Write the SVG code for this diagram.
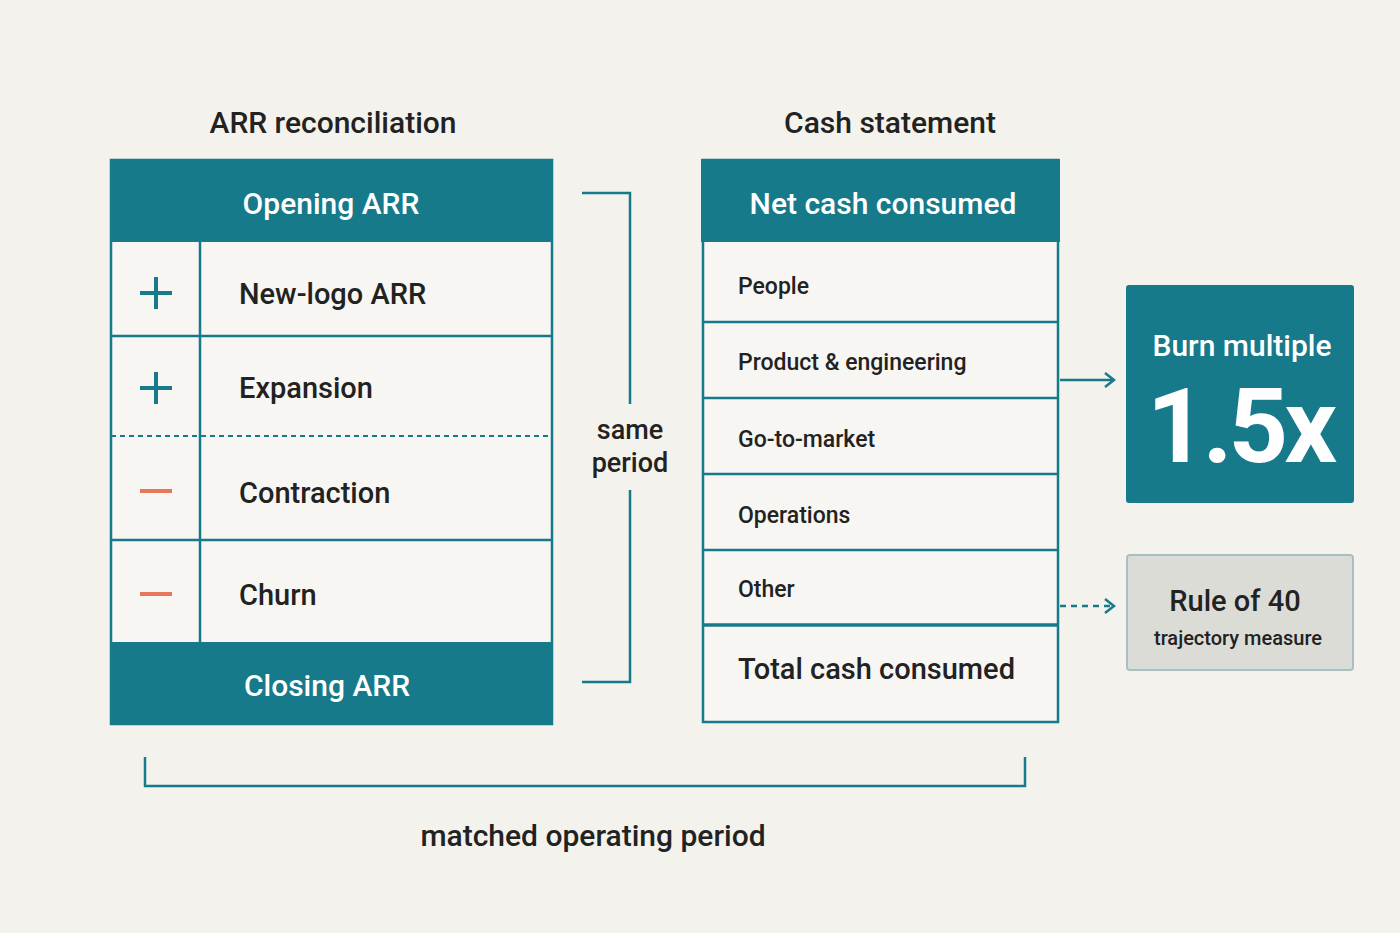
<svg xmlns="http://www.w3.org/2000/svg" width="1400" height="933" viewBox="0 0 1400 933">
<style>
text{font-family:Roboto,"Liberation Sans",sans-serif;fill:#222;font-weight:500}
.t{font-size:30px}
.h{font-size:30px;fill:#fff}
.r{font-size:29px}
.s{font-size:23px}
.ln{stroke:#177a8a;stroke-width:2.5;fill:none}
.cell{fill:#f7f6f2;stroke:#177a8a;stroke-width:2.5}
.hd{fill:#177a8a}
</style>
<defs>
<marker id="ah" markerWidth="12" markerHeight="16" refX="10" refY="8" orient="auto" markerUnits="userSpaceOnUse">
<path d="M1,1 L10,8 L1,15" fill="none" stroke="#177a8a" stroke-width="2.5"/>
</marker>
</defs>
<rect width="1400" height="933" fill="#f4f2ec"/>
<text class="t" x="333" y="133" text-anchor="middle">ARR reconciliation</text>
<text class="t" x="890" y="133" text-anchor="middle">Cash statement</text>
<g id="arr-table">
<rect class="cell" x="111" y="160" width="441" height="564"/>
<rect class="hd" x="110" y="159" width="443" height="83"/>
<text class="h" x="331" y="214" text-anchor="middle">Opening ARR</text>
<line class="ln" x1="200" y1="242" x2="200" y2="642"/>
<line class="ln" x1="111" y1="336" x2="552" y2="336"/>
<line x1="111" y1="436" x2="552" y2="436" stroke="#177a8a" stroke-width="2" stroke-dasharray="5,4"/>
<line class="ln" x1="111" y1="540" x2="552" y2="540"/>
<g stroke="#177a8a" stroke-width="4"><line x1="140" y1="293" x2="172" y2="293"/><line x1="156" y1="277" x2="156" y2="309"/><line x1="140" y1="388" x2="172" y2="388"/><line x1="156" y1="372" x2="156" y2="404"/></g>
<g stroke="#e8765a" stroke-width="4"><line x1="140" y1="491" x2="172" y2="491"/><line x1="140" y1="594" x2="172" y2="594"/></g>
<text class="r" x="239" y="304">New-logo ARR</text>
<text class="r" x="239" y="398">Expansion</text>
<text class="r" x="239" y="503">Contraction</text>
<text class="r" x="239" y="605">Churn</text>
<rect class="hd" x="110" y="642" width="443" height="83"/>
<text class="h" x="327" y="696" text-anchor="middle">Closing ARR</text>
</g>
<g id="cash-table">
<rect class="cell" x="703" y="160" width="355" height="562"/>
<rect class="hd" x="701" y="159" width="359" height="83"/>
<text class="h" x="883" y="214" text-anchor="middle">Net cash consumed</text>
<line class="ln" x1="703" y1="322" x2="1058" y2="322"/>
<line class="ln" x1="703" y1="398" x2="1058" y2="398"/>
<line class="ln" x1="703" y1="474" x2="1058" y2="474"/>
<line class="ln" x1="703" y1="550" x2="1058" y2="550"/>
<line x1="703" y1="625" x2="1058" y2="625" stroke="#177a8a" stroke-width="3.5"/>
<text class="s" x="738" y="294">People</text>
<text class="s" x="738" y="370">Product &amp; engineering</text>
<text class="s" x="738" y="447">Go-to-market</text>
<text class="s" x="738" y="523">Operations</text>
<text class="s" x="738" y="597">Other</text>
<text class="r" x="738" y="679">Total cash consumed</text>
</g>
<g id="burn">
<rect x="1126" y="285" width="228" height="218" rx="3" fill="#177a8a"/>
<text x="1242" y="356" text-anchor="middle" style="font-size:30px;fill:#fff">Burn multiple</text>
<text x="1240" y="462" text-anchor="middle" style="font-size:104px;fill:#fff;font-weight:700;letter-spacing:-4px">1.5x</text>
</g>
<g id="rule40">
<rect x="1127" y="555" width="226" height="115" rx="3" fill="#dcdcd7" stroke="#a9c0c3" stroke-width="2"/>
<text x="1235" y="611" text-anchor="middle" style="font-size:29px">Rule of 40</text>
<text x="1238" y="645" text-anchor="middle" style="font-size:20px">trajectory measure</text>
</g>
<g id="connectors">
<path class="ln" d="M582,193 H630 V404 M630,490 V682 H582"/>
<text x="630" y="439" text-anchor="middle" style="font-size:27px">same</text>
<text x="630" y="472" text-anchor="middle" style="font-size:27px">period</text>
<line class="ln" x1="1060" y1="380" x2="1114" y2="380" marker-end="url(#ah)"/>
<line class="ln" x1="1060" y1="606" x2="1114" y2="606" stroke-dasharray="6,5" marker-end="url(#ah)"/>
<path class="ln" d="M145,757 V786 H1025 V757"/>
<text x="593" y="846" text-anchor="middle" style="font-size:30px">matched operating period</text>
</g>
</svg>
